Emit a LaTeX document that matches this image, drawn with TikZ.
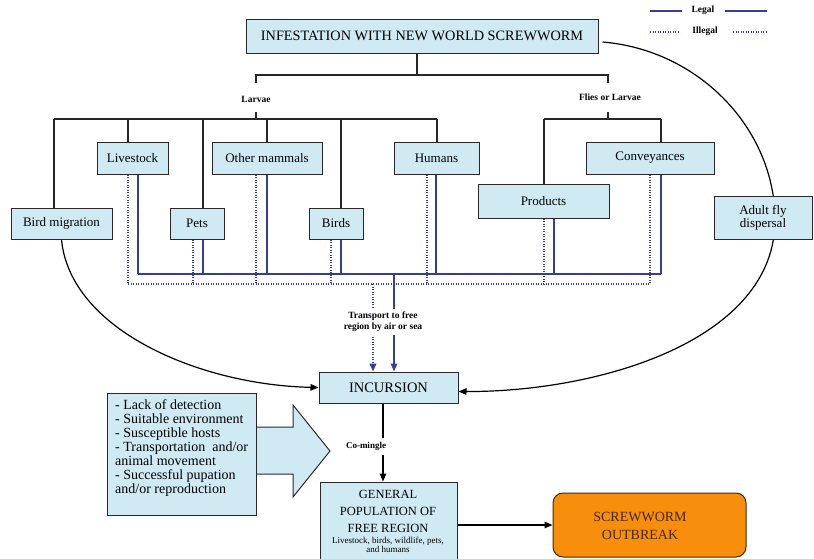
\documentclass[tikz,border=0pt]{standalone}
\usepackage{fontspec}
\setmainfont{Liberation Serif}
\usetikzlibrary{arrows.meta}
\pgfdeclarelayer{background}
\pgfsetlayers{background,main}
\definecolor{boxfill}{RGB}{208,234,243}
\definecolor{boxline}{RGB}{40,40,40}
\definecolor{routeblue}{RGB}{52,62,150}
\definecolor{alarm}{RGB}{247,142,12}
\definecolor{alarmtext}{RGB}{70,40,10}

\begin{document}
\begin{tikzpicture}[x=1pt,y=-1pt,
  box/.style={draw=boxline, fill=boxfill, line width=1pt, inner sep=0pt,
              font=\fontsize{13}{13}\selectfont, align=center},
  tree/.style={line width=1.2pt, black!85},
  legal/.style={line width=1.7pt, routeblue},
  illegal/.style={line width=2pt, routeblue, dash pattern=on 1.4pt off 1.1pt},
  curve/.style={line width=1.2pt, black},
  tip/.style={-{Triangle[length=8pt,width=6.5pt]}},
  tag/.style={font=\bfseries\fontsize{9.5}{11}\selectfont, inner sep=1pt, align=center},
]
\useasboundingbox (0,0) rectangle (814,558);

% ---------- boxes ----------
\node[box, minimum width=352pt, minimum height=34pt, font=\fontsize{14.3}{16}\selectfont]
  (top) at (422,36) {INFESTATION WITH NEW WORLD SCREWWORM};
\node[box, minimum width=101pt, minimum height=31pt] (bird) at (61.5,223.5) {Bird migration};
\node[box, minimum width=71pt, minimum height=32pt] (livestock) at (132.5,158) {Livestock};
\node[box, minimum width=54pt, minimum height=31pt] (pets) at (197,223.5) {Pets};
\node[box, minimum width=110pt, minimum height=32pt] (othermammals) at (267,158) {Other mammals};
\node[box, minimum width=54pt, minimum height=31pt] (birds) at (336,223.5) {Birds};
\node[box, minimum width=85pt, minimum height=32pt] (humans) at (436.5,158) {Humans};
\node[box, minimum width=131pt, minimum height=34pt] (products) at (543.5,201) {Products};
\node[box, minimum width=128pt, minimum height=32pt] (conveyances) at (650,158) {Conveyances};
\node[box, minimum width=98pt, minimum height=43pt] (adultfly) at (763,217.5) {Adult fly\\dispersal};
\node[box, minimum width=139pt, minimum height=31pt, font=\fontsize{14.5}{16}\selectfont]
  (incursion) at (388.5,387.5) {INCURSION};

% block arrow pointing at the incursion path
\filldraw[draw=boxline, fill=boxfill, line width=1pt]
  (240,427) -- (293,427) -- (293,405) -- (330,451) -- (293,497) -- (293,474) -- (240,474) -- cycle;
\node[box, minimum width=149pt, minimum height=122pt] (factors) at (181.5,454) {};
\node[anchor=west, align=left, inner sep=0pt, font=\fontsize{14}{14}\selectfont]
  (factorstxt) at (115,448) {- Lack of detection\\- Suitable environment\\- Susceptible hosts\\- Transportation\ \ and/or\\animal movement\\- Successful pupation\\and/or reproduction};

\node[box, minimum width=137pt, minimum height=82pt] (general) at (388.5,523) {};
\node[align=center, inner sep=0pt, font=\fontsize{12.5}{17}\selectfont]
  (gentitle) at (388,511) {GENERAL\\POPULATION OF\\FREE REGION};
\node[align=center, inner sep=0pt, font=\fontsize{9}{9.5}\selectfont]
  (gensub) at (388,545) {Livestock, birds, wildlife, pets,\\and humans};

\node[draw=alarmtext, fill=alarm, rounded corners=10pt, line width=1pt,
      minimum width=193pt, minimum height=64pt] (outbreak) at (649.5,525) {};
\node[align=center, text=alarmtext, font=\fontsize{14}{18}\selectfont]
  (outbreaktxt) at (640,526) {SCREWWORM\\OUTBREAK};

% ---------- tree of pathways ----------
\coordinate (hub) at (417,75);
\coordinate (lbus) at (256,119);
\coordinate (rbus) at (608,119);
\draw[tree] (top.south -| hub) -- (hub);
\draw[tree] (256,83) -- (256,75) -- (608,75) -- (608,83);
\node[tag] (larvae) at (256,99) {Larvae};
\node[tag] (flies) at (610,97) {Flies or Larvae};
\draw[tree] (lbus) -- ++(0,-7);
\draw[tree] (rbus) -- ++(0,-7);
\draw[tree] (54,119) -- (437,119);
\draw[tree] (544,119) -- (661,119);
\foreach \n/\x in {bird/54, livestock/128, pets/203, othermammals/267, birds/341, humans/437,
                   products/544, conveyances/661}
  \draw[tree] (\x,119) -- (\n.north -| \x,0);

% ---------- legal and illegal movement ----------
\draw[legal] (138,274) -- (661,274);
\foreach \n/\x in {livestock/138, pets/203, othermammals/267, birds/341, humans/436,
                   products/554, conveyances/661}
  \draw[legal] (\n.south -| \x,0) -- (\x,274);
\draw[illegal] (128,284) -- (650,284);
\foreach \n/\x in {livestock/128, pets/193, othermammals/256, birds/331, humans/427,
                   products/544, conveyances/650}
  \draw[illegal] (\n.south -| \x,0) -- (\x,284);
\draw[legal, tip] (394,274) -- (incursion.north -| 394,0);
\draw[illegal, tip] (373,284) -- (incursion.north -| 373,0);
\node[tag, fill=white, inner ysep=3pt] (transport) at (383,322) {Transport to free\\region by air or sea};

% ---------- natural spread ----------
\begin{pgfonlayer}{background}
\draw[curve, tip] (bird.south) .. controls (70,330) and (200,385) .. (incursion.west);
\draw[curve, tip] ([xshift=4pt,yshift=-6pt]top.east) .. controls (700,50) and (775,130) .. (775,220)
  .. controls (775,340) and (600,392) .. ([yshift=-4pt]incursion.east);
\end{pgfonlayer}

% ---------- outcome ----------
\draw[curve, tip] ([xshift=-5.5pt]incursion.south) --
  node[tag, fill=white, pos=0.55, xshift=-17pt, inner ysep=4.5pt, font=\bfseries\fontsize{9}{11}\selectfont] (comingle) {Co-mingle}
  ([xshift=-5.5pt]general.north);
\draw[curve, tip] (general.east |- outbreak.west) -- (outbreak.west);

% ---------- legend ----------
\node[tag] (leglegal) at (703,10) {Legal};
\node[tag] (legillegal) at (705,31) {Illegal};
\draw[legal, line width=1.5pt] (650,11) -- (682,11);
\draw[legal, line width=1.5pt] (725,11) -- (767,11);
\draw[illegal, line width=1.6pt] (650,32) -- (678,32);
\draw[illegal, line width=1.6pt] (733,32) -- (767,32);
\end{tikzpicture}
\end{document}
